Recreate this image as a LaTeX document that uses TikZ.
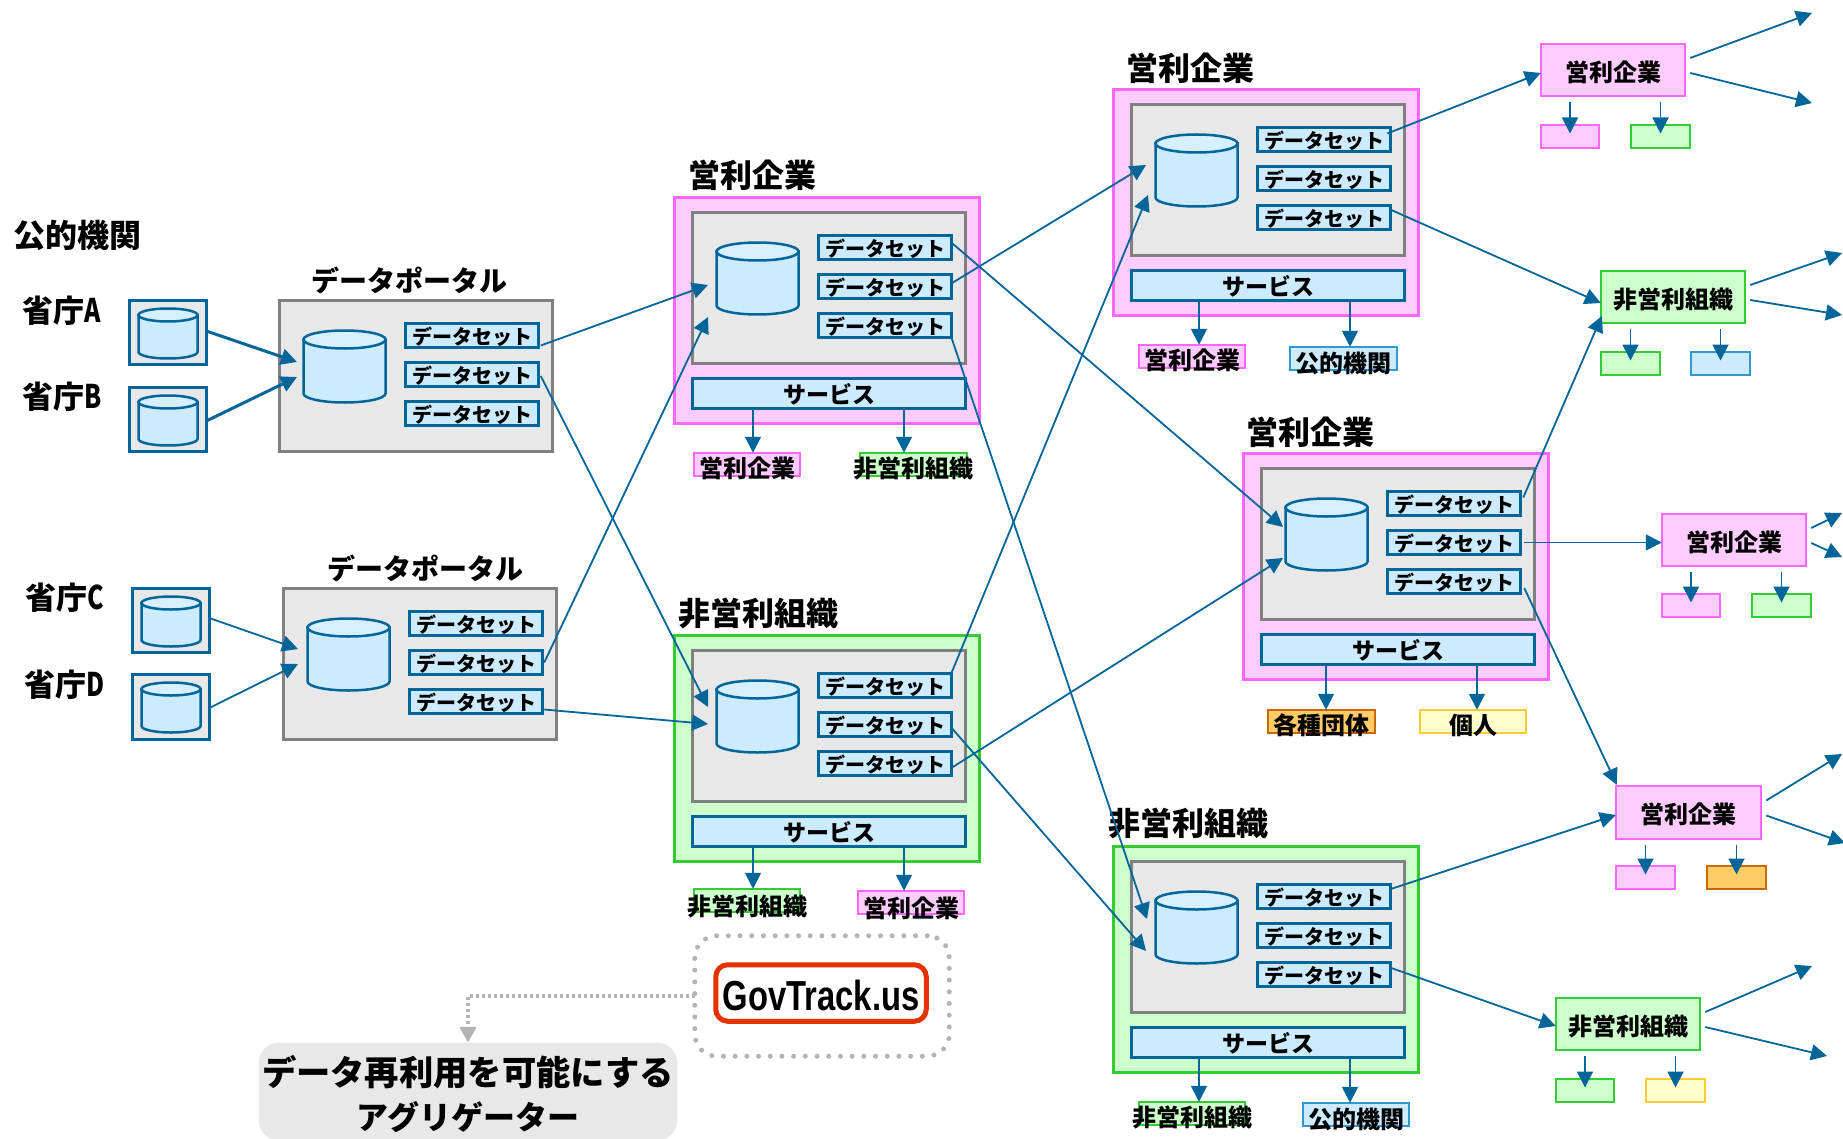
\documentclass[tikz,border=0pt]{standalone}
\usepackage{fontspec}
\usepackage{graphicx}
\setmainfont{Noto Sans CJK JP}
\newfontfamily\latinfont{Liberation Sans}
\usetikzlibrary{arrows.meta}
\definecolor{pinkF}{HTML}{FFCCFF}\definecolor{pinkS}{HTML}{FF66FF}
\definecolor{greenF}{HTML}{CCFFCC}\definecolor{greenS}{HTML}{33CC33}
\definecolor{blueF}{HTML}{CCEBFF}\definecolor{blueS}{HTML}{006699}\definecolor{blueT}{HTML}{D6F0FF}
\definecolor{skyS}{HTML}{3399CC}
\definecolor{grayF}{HTML}{E8E8E8}\definecolor{grayS}{HTML}{808080}
\definecolor{orangeF}{HTML}{FFCC66}\definecolor{orangeS}{HTML}{CC6600}
\definecolor{yellowF}{HTML}{FFFFCC}\definecolor{yellowS}{HTML}{FFCC33}
\definecolor{redS}{HTML}{E63200}\definecolor{dotC}{HTML}{B3B3B3}
\newcommand{\fs}[1]{\fontsize{#1}{#1}\selectfont\bfseries}
\newcommand{\low}[2]{\raisebox{-#1pt}[\height][\depth]{#2}}
\newcommand{\dstext}{\low{1.5}{データセット}}
\newcommand{\svctext}{\low{1}{サービス}}
\tikzset{
  rc/.style={rectangle,inner sep=0pt,outer sep=0pt,text=black},
  outerbox/.style={line width=3pt},
  graybox/.style={fill=grayF,draw=grayS,line width=3pt},
  dsbox/.style={fill=blueF,draw=blueS,line width=3pt,font=\fs{20}},
  svcbox/.style={fill=blueF,draw=blueS,line width=3pt,font=\fs{23}},
  srcbox/.style={fill=grayF,draw=blueS,line width=3pt},
  pinkL/.style={fill=pinkF,draw=pinkS,line width=2pt},
  greenL/.style={fill=greenF,draw=greenS,line width=2pt},
  skyL/.style={fill=blueF,draw=skyS,line width=2pt},
  orangeL/.style={fill=orangeF,draw=orangeS,line width=2pt},
  yellowL/.style={fill=yellowF,draw=yellowS,line width=2pt},
  title/.style={inner sep=0pt,font=\fs{32}},
  subtext/.style={inner sep=0pt,font=\fs{24}},
  link/.style={draw=blueS,line width=1.8pt,-{Triangle[length=16pt,width=16pt]}},
  thick link/.style={draw=blueS,line width=3pt,-{Triangle[length=16pt,width=16pt]}},
  cyl/.style={fill=blueF,draw=blueS,line width=2.5pt},
  cyltop/.style={fill=blueT,draw=blueS,line width=2.5pt},
}
% rectangle node from outer corners: name x1 y1 x2 y2 style text
\newcommand{\rc}[7]{%
  \pgfmathsetmacro\rcx{(#2+#4)/2}\pgfmathsetmacro\rcy{(#3+#5)/2}%
  \pgfmathsetmacro\rcw{#4-(#2)-1.5}\pgfmathsetmacro\rch{#5-(#3)-1.5}%
  \node[rc,#6,minimum width=\rcw pt,minimum height=\rch pt] (#1) at (\rcx,\rcy) {#7};}
% cylinder from outer extents: x1 y1 x2 y2 ry
\newcommand{\cylinderdraw}[5]{%
  \pgfmathsetmacro\xa{#1+0.5}\pgfmathsetmacro\xb{#3-0.5}\pgfmathsetmacro\ya{#2+0.5}\pgfmathsetmacro\yb{#4-0.5}%
  \pgfmathsetmacro\cc{(\xa+\xb)/2}\pgfmathsetmacro\cw{(\xb-\xa)/2}%
  \pgfmathsetmacro\ca{\ya+#5}\pgfmathsetmacro\cb{\yb-#5}%
  \pgfmathsetmacro\cd{\cb+0.5523*#5}\pgfmathsetmacro\cl{\cc-0.5523*\cw}\pgfmathsetmacro\cr{\cc+0.5523*\cw}%
  \path[cyl] (\xa,\ca) -- (\xa,\cb) .. controls (\xa,\cd) and (\cl,\yb) .. (\cc,\yb)
     .. controls (\cr,\yb) and (\xb,\cd) .. (\xb,\cb) -- (\xb,\ca) -- cycle;
  \path[cyltop] (\cc,\ca) ellipse [x radius=\cw,y radius=#5];}
% inner store: name ox oy (the gray panel corner)
\newcommand{\store}[3]{%
  \rc{#1}{#2}{#3}{#2+274}{#3+152}{graybox}{}%
  \cylinderdraw{#2+24}{#3+30}{#2+107}{#3+103}{9}%
  \rc{#1d1}{#2+126}{#3+23}{#2+260}{#3+48}{dsbox}{\dstext}%
  \rc{#1d2}{#2+126}{#3+62}{#2+260}{#3+87}{dsbox}{\dstext}%
  \rc{#1d3}{#2+126}{#3+101}{#2+260}{#3+126}{dsbox}{\dstext}}
% block: name ox oy fill stroke
\newcommand{\block}[5]{%
  \rc{#1}{#2}{#3}{#2+306}{#3+227}{outerbox,fill=#4,draw=#5}{}%
  \store{#1}{#2+18}{#3+15}%
  \rc{#1s}{#2+18}{#3+181}{#2+292}{#3+212}{svcbox}{\svctext}}
% sub label: [text drop] name x1 y1 x2 style text
\newcommand{\sublabel}[7][4]{%
  \rc{#2}{#3}{#4}{#5}{#4+25}{#6}{}%
  \node[subtext] (#2t) at ([shift={(0,#1)}]#2.center) {#7};}
% service arrow: service dx label
\newcommand{\svcdown}[3]{%
  \coordinate (tmp) at ([shift={(#2,0)}]#1.south);
  \draw[link] (tmp) -- (tmp |- #3.north);}
% right-hand node arrow: node sub
\newcommand{\rdown}[2]{%
  \coordinate (tmp) at (#1.south -| #2.center);
  \draw[link] ([shift={(0,6)}]tmp) -- ([shift={(0,-3)}]#2.center);}
% right-hand node outgoing pair
\newcommand{\outs}[5]{%
  \coordinate (#1oa) at (#2,#3);\coordinate (#1ob) at (#4,#5);
  \draw[link] ([shift={(5,-12)}]#1.east) -- (#1oa);
  \draw[link] ([shift={(5,3)}]#1.east) -- (#1ob);}
\begin{document}
\begin{tikzpicture}[x=1pt,y=-1pt]
\useasboundingbox (0,0) rectangle (1843,1139);
\clip (0,0) rectangle (1843,1139);
\fill[white] (0,0) rectangle (1843,1139);

% left labels
\node[title] (tPub) at (77,235) {公的機関};
\node[title,font=\fs{31}] (tA) at (62,311) {省庁\scalebox{0.8}[1.05]{A}};
\node[title,font=\fs{31}] (tB) at (62,397) {省庁\scalebox{0.8}[1.05]{B}};
\node[title,font=\fs{31}] (tC) at (64.5,598) {省庁\scalebox{0.8}[1.05]{C}};
\node[title,font=\fs{31}] (tD) at (64.5,685) {省庁\scalebox{0.8}[1.05]{D}};

% sources
\rc{sA}{129}{300}{207}{365}{srcbox}{}\cylinderdraw{138}{308}{198}{359}{6.5}
\rc{sB}{129}{387}{207}{452}{srcbox}{}\cylinderdraw{138}{395}{198}{446}{6.5}
\rc{sC}{132}{588}{210}{653}{srcbox}{}\cylinderdraw{141}{596}{201}{647}{6.5}
\rc{sD}{132}{674}{210}{740}{srcbox}{}\cylinderdraw{141}{682}{201}{733}{6.5}

% portals
\store{P}{279}{300}
\store{Q}{283}{588}
\node[title,font=\fs{28}] (tP) at (409,280) {データポータル};
\node[title,font=\fs{28}] (tQ) at (425,568) {データポータル};

% blocks
\block{K}{674}{197}{pinkF}{pinkS}
\block{C}{674}{635}{greenF}{greenS}
\block{A}{1113}{89}{pinkF}{pinkS}
\block{B}{1243}{453}{pinkF}{pinkS}
\block{D}{1113}{846}{greenF}{greenS}
\node[title] (tK) at (752,175) {営利企業};
\node[title] (tC2) at (758,613) {非営利組織};
\node[title] (tA2) at (1190.5,68) {営利企業};
\node[title] (tB2) at (1310,432) {営利企業};
\node[title] (tD2) at (1188,823) {非営利組織};

% labels below blocks
\sublabel{Ka}{693}{452}{801}{pinkL}{営利企業}
\sublabel{Kb}{859}{452}{968}{greenL}{非営利組織}
\sublabel[6]{Ca}{693}{888}{801}{greenL}{非営利組織}
\sublabel[6]{Cb}{857}{890}{965}{pinkL}{営利企業}
\sublabel{Aa}{1138}{344}{1246}{pinkL}{営利企業}
\sublabel[5]{Ab}{1289}{346}{1398}{skyL}{公的機関}
\sublabel{Ba}{1267}{709}{1376}{orangeL}{各種団体}
\sublabel{Bb}{1419}{709}{1527}{yellowL}{個人}
\sublabel{Da}{1138}{1101}{1246}{greenL}{非営利組織}
\sublabel[5]{Db}{1302}{1102}{1410}{skyL}{公的機関}
\svcdown{Ks}{-76}{Ka}\svcdown{Ks}{75}{Kb}
\svcdown{Cs}{-76}{Ca}\svcdown{Cs}{75}{Cb}
\svcdown{As}{-69}{Aa}\svcdown{As}{82}{Ab}
\svcdown{Bs}{-72}{Ba}\svcdown{Bs}{79}{Bb}
\svcdown{Ds}{-69}{Da}\svcdown{Ds}{82}{Db}

% right-hand nodes
\rc{N1}{1540}{43}{1686}{97}{pinkL}{\fs{24}\low{2}{営利企業}}
\rc{N2}{1600}{270}{1746}{324}{greenL}{\fs{24}\low{2}{非営利組織}}
\rc{N3}{1661}{513}{1807}{567}{pinkL}{\fs{24}\low{2}{営利企業}}
\rc{N4}{1615}{785}{1762}{840}{pinkL}{\fs{24}\low{2}{営利企業}}
\rc{N5}{1555}{997}{1701}{1051}{greenL}{\fs{24}\low{2}{非営利組織}}
\rc{n1a}{1540}{124}{1600}{149}{pinkL}{}\rc{n1b}{1630}{124}{1691}{149}{greenL}{}
\rc{n2a}{1600}{351}{1661}{376}{greenL}{}\rc{n2b}{1690}{351}{1751}{376}{skyL}{}
\rc{n3a}{1661}{593}{1721}{618}{pinkL}{}\rc{n3b}{1751}{593}{1812}{618}{greenL}{}
\rc{n4a}{1615}{865}{1676}{890}{pinkL}{}\rc{n4b}{1706}{865}{1767}{890}{orangeL}{}
\rc{n5a}{1555}{1078}{1615}{1103}{greenL}{}\rc{n5b}{1645}{1078}{1706}{1103}{yellowL}{}
\rdown{N1}{n1a}\rdown{N1}{n1b}\rdown{N2}{n2a}\rdown{N2}{n2b}
\rdown{N3}{n3a}\rdown{N3}{n3b}\rdown{N4}{n4a}\rdown{N4}{n4b}
\rdown{N5}{n5a}\rdown{N5}{n5b}
\outs{N1}{1812}{13}{1812}{103}
\outs{N2}{1842}{253}{1842}{315}
\outs{N3}{1842}{513}{1842}{557}
\outs{N4}{1842}{754}{1845}{843}
\outs{N5}{1812}{966}{1827}{1056}

% entry points at the stores
\coordinate (Pi1) at (297,362);\coordinate (Pi2) at (297,377);
\coordinate (Qi1) at (298,649);\coordinate (Qi2) at (298,664);
\coordinate (Ki1) at (708,285);\coordinate (Ki2) at (708,317);
\coordinate (Ci1) at (708,707);\coordinate (Ci2) at (708,724);
\coordinate (Ai1) at (1146,165);\coordinate (Ai2) at (1148,195);
\coordinate (Bi1) at (1283,527);\coordinate (Bi2) at (1283,558);
\coordinate (Di1) at (1147,919);\coordinate (Di2) at (1146,951);

% connectors
\draw[thick link] ([shift={(0,-1.5)}]sA.east) -- (Pi1);
\draw[thick link] ([shift={(0,1.5)}]sB.east) -- (Pi2);
\draw[link] ([shift={(0,-2.5)}]sC.east) -- (Qi1);
\draw[link] ([shift={(0,1)}]sD.east) -- (Qi2);
\draw[link] ([shift={(2.5,10)}]Pd1.east) -- (Ki1);
\draw[link] ([shift={(2.5,1.5)}]Pd2.east) -- (Ci1);
\draw[link] ([shift={(2,0)}]Qd2.east) -- (Ki2);
\draw[link] ([shift={(2,8)}]Qd3.east) -- (Ci2);
\draw[link] ([shift={(0,-5)}]Kd1.east) -- (Bi1);
\draw[link] ([shift={(0,-3)}]Kd2.east) -- (Ai1);
\draw[link] ([shift={(0,11.5)}]Kd3.east) -- (Di1);
\draw[link] ([shift={(0,-12)}]Cd1.east) -- (Ai2);
\draw[link] ([shift={(0,3)}]Cd2.east) -- (Di2);
\draw[link] ([shift={(0,4.5)}]Cd3.east) -- (Bi2);
\draw[link] ([shift={(-3,-6)}]Ad1.east) -- ([shift={(0,3)}]N1.west);
\draw[link] ([shift={(1,-7.5)}]Ad3.east) -- ([shift={(0,6)}]N2.west);
\draw[link] ([shift={(3,-6)}]Bd1.east) -- ([shift={(1,19)}]N2.west);
\draw[link] ([shift={(4,0)}]Bd2.east) -- (Bd2.east -| N3.west);
\draw[link] ([shift={(4,6.5)}]Bd3.east) -- ([shift={(1,-1)}]N4.north west);
\draw[link] ([shift={(-1,-7)}]Dd1.east) -- ([shift={(0,2.5)}]N4.west);
\draw[link] ([shift={(1,-6.5)}]Dd3.east) -- ([shift={(0,2)}]N5.west);

% aggregator
\rc{dot}{694}{935}{950}{1057}{draw=dotC,line width=5pt,line cap=round,dash pattern=on 0pt off 11.7pt,rounded corners=22pt}{}
\rc{gov}{715}{964}{927}{1022}{fill=white,draw=redS,line width=5pt,rounded corners=12pt}{\fs{42}\latinfont\low{2}{\scalebox{0.78}[1]{GovTrack.us}}}
\rc{agg}{258}{1042}{678}{1141}{fill=grayF,rounded corners=20pt}{}
\node[title,font=\fs{34.3}] (agg1) at (468,1072) {データ再利用を可能にする};
\node[title,font=\fs{32}] (agg2) at (468,1117) {アグリゲーター};
\draw[draw=dotC,line width=4.5pt,dash pattern=on 3pt off 3pt,-{Triangle[length=16pt,width=16pt]}] (dot.west) -| (agg.north);
\end{tikzpicture}
\end{document}
